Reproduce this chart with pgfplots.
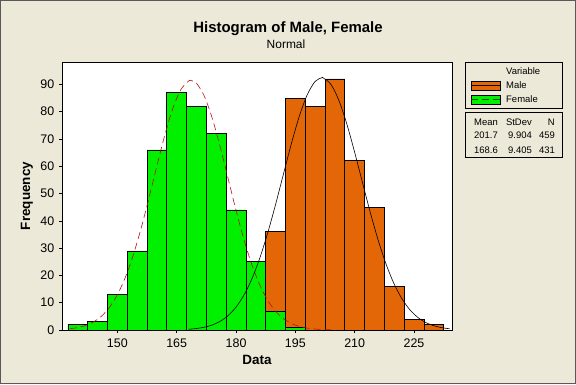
\documentclass[border=0pt]{standalone}
\usepackage{pgfplots}
\pgfplotsset{compat=1.18}
\usepackage{fontspec}
\setmainfont{Liberation Sans}
\definecolor{bg}{RGB}{236,233,216}
\definecolor{maleor}{RGB}{227,102,7}
\definecolor{femgr}{RGB}{0,240,0}
\definecolor{fcurve}{RGB}{180,20,20}
\newcommand{\lgfont}{\fontsize{9.5}{11}\selectfont}
\begin{document}
\begin{tikzpicture}[x=1bp,y=1bp]
\fill[bg] (0,0) rectangle (576,384);
\draw[black!65, line width=1bp] (0.5,0.5) rectangle (575.5,383.5);
\useasboundingbox (0,0) rectangle (576,384);
\begin{axis}[
  at={(62bp,54bp)}, anchor=south west,
  scale only axis, width=390bp, height=268bp,
  xmin=136, xmax=234.6, ymin=0, ymax=98.2,
  axis background/.style={fill=white},
  axis line style={line width=0.8bp},
  xtick={150,165,...,225}, ytick={0,10,...,90},
  tick align=outside, major tick length=3bp, tick style={black, line width=0.6bp},
  tick pos=left,
  ticklabel style={font=\fontsize{12.5}{14}\selectfont, inner sep=0pt},
  /pgf/number format/assume math mode=true,
  xticklabel shift=5.5bp, yticklabel shift=4.6bp,
  legend style={at={(1.0477,0.98993)}, anchor=north west, draw=none, fill=none,
    inner sep=0pt, outer sep=0pt, row sep=0pt, column sep=6bp,
    font=\lgfont, nodes={inner sep=0pt, text height=7bp, text depth=2bp, minimum height=14bp}},
  legend cell align=left,
]
\addlegendimage{empty legend}
\addlegendentry{Variable}
\addlegendimage{legend image code/.code={\draw[fill=maleor, draw=black, line width=0.6bp] (0bp,-4.8bp) rectangle (29bp,4.8bp); \draw[black, line width=0.6bp] (0bp,0bp) -- (29bp,0bp);}}
\addlegendentry{Male}
\addlegendimage{legend image code/.code={\draw[fill=femgr, draw=black, line width=0.6bp] (0bp,-4.8bp) rectangle (29bp,4.8bp); \draw[black!70!green, line width=0.6bp, dash pattern=on 7bp off 4bp] (0bp,0bp) -- (29bp,0bp);}}
\addlegendentry{Female}
% Male histogram
\addplot[ybar interval, fill=maleor, draw=black, line width=0.7bp, forget plot] coordinates {
(187.5,36) (192.5,85) (197.5,82) (202.5,92) (207.5,62) (212.5,45) (217.5,16) (222.5,4) (227.5,2) (232.5,0)};
% Female histogram
\addplot[ybar interval, fill=femgr, draw=black, line width=0.7bp, forget plot] coordinates {
(137.5,2) (142.5,3) (147.5,13) (152.5,29) (157.5,66) (162.5,87) (167.5,82) (172.5,72) (177.5,44) (182.5,25) (187.5,7) (192.5,1) (197.5,0)};
% Female fitted normal curve
\addplot[fcurve, line width=0.6bp, dash pattern=on 7bp off 4bp, smooth, forget plot] coordinates {
(138,0.46) (140,0.90) (142,1.68) (144,2.99) (146,5.09) (148,8.30) (150,12.93) (152,19.25) (154,27.40) (156,37.26) (158,48.44) (160,60.18) (162,71.46) (164,81.11) (166,87.98) (168,91.22) (168.6,91.41) (170,90.40) (172,85.63) (174,77.51) (176,67.08) (178,55.47) (180,43.85) (182,33.13) (184,23.92) (186,16.51) (188,10.89) (190,6.87) (192,4.14) (194,2.38) (196,1.31) (198,0.69) (200,0.35) (202,0.17) (204,0.07)};
% Male fitted normal curve
\addplot[black, line width=0.6bp, smooth, forget plot] coordinates {
(168,0.28) (170,0.55) (172,1.03) (174,1.85) (176,3.19) (178,5.28) (180,8.39) (182,12.79) (184,18.72) (186,26.33) (188,35.52) (190,46.02) (192,57.22) (194,68.33) (196,78.33) (198,86.21) (200,91.09) (201.7,92.44) (202,92.40) (204,89.98) (206,84.12) (208,75.51) (210,65.06) (212,53.83) (214,42.75) (216,32.60) (218,23.86) (220,16.77) (222,11.31) (224,7.33) (226,4.56) (228,2.72) (230,1.56) (232,0.86) (234,0.45)};
\end{axis}
% titles and labels
\node[anchor=base, font=\bfseries\fontsize{15}{17}\selectfont] at (288,351.5) {Histogram of Male, Female};
\node[anchor=base, font=\fontsize{12}{14}\selectfont] at (286,335.3) {Normal};
\node[anchor=base, font=\bfseries\fontsize{13.5}{15}\selectfont] at (257,19.3) {Data};
\node[anchor=base, rotate=90, font=\bfseries\fontsize{13.5}{15}\selectfont] at (30,188) {Frequency};
% legend box
\draw[black, line width=0.8bp, fill=white, fill opacity=0] (465.5,321.7) rectangle (562.5,275.7);
% statistics box
\draw[black, line width=0.8bp] (465.5,271.7) rectangle (562.5,226.7);
\begin{scope}[every node/.style={anchor=base east, font=\lgfont, inner sep=0pt}]
\node at (498,259) {Mean};
\node at (532,259) {StDev};
\node at (555,259) {N};
\node at (498,245.2) {201.7};
\node at (532,245.2) {9.904};
\node at (555,245.2) {459};
\node at (498,231) {168.6};
\node at (532,231) {9.405};
\node at (555,231) {431};
\end{scope}
\end{tikzpicture}
\end{document}
